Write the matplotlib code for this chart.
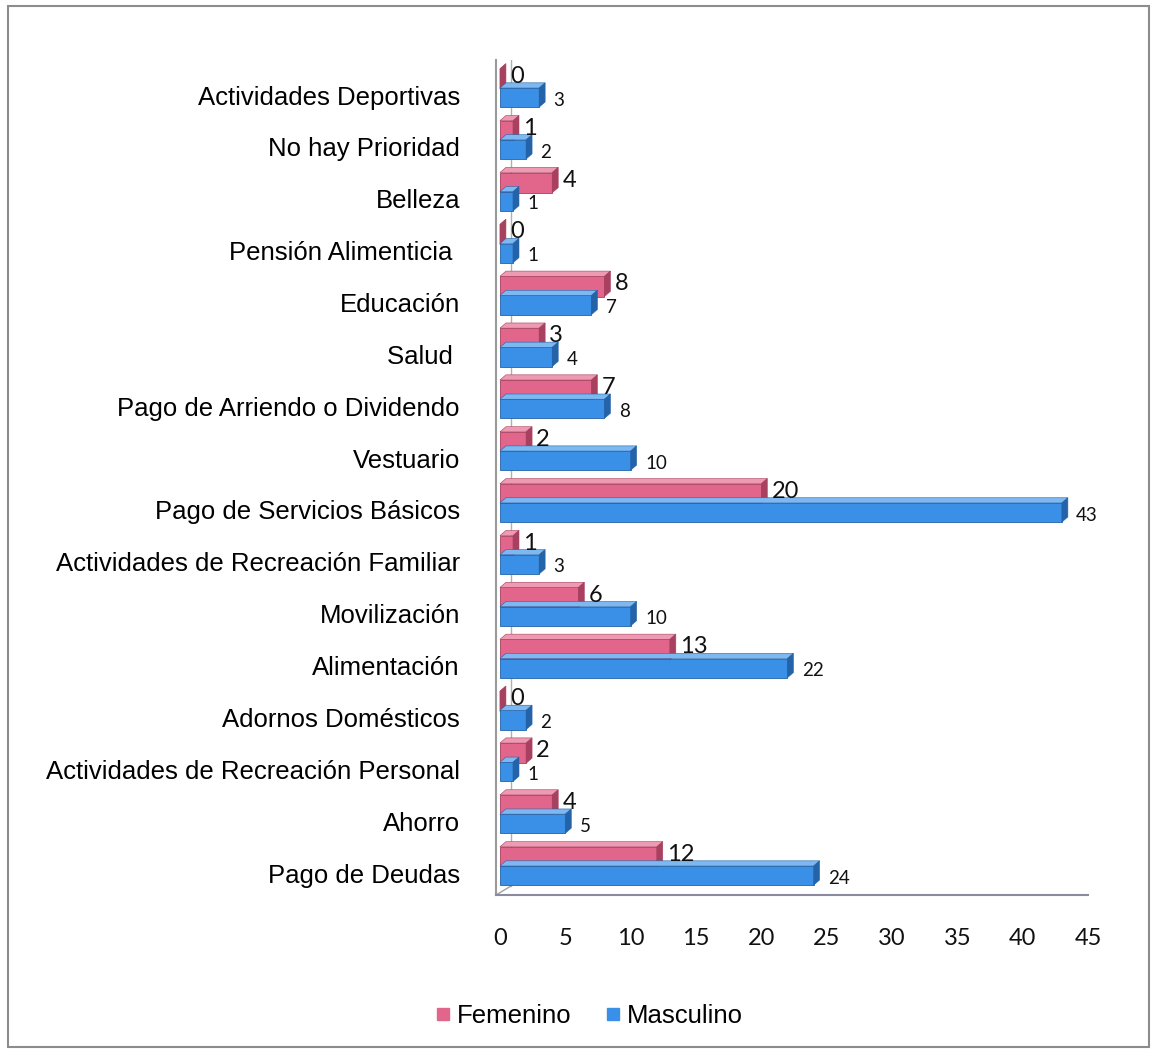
import numpy as np
import matplotlib.pyplot as plt
from matplotlib.patches import Polygon, Rectangle
from matplotlib.lines import Line2D

# categories from top to bottom
categories = ["Actividades Deportivas", "No hay Prioridad", "Belleza",
              "Pensión Alimenticia ", "Educación", "Salud ",
              "Pago de Arriendo o Dividendo", "Vestuario",
              "Pago de Servicios Básicos", "Actividades de Recreación Familiar",
              "Movilización", "Alimentación", "Adornos Domésticos",
              "Actividades de Recreación Personal", "Ahorro", "Pago de Deudas"]
femenino = [0, 1, 4, 0, 8, 3, 7, 2, 20, 1, 6, 13, 0, 2, 4, 12]
masculino = [3, 2, 1, 1, 7, 4, 8, 10, 43, 3, 10, 22, 2, 1, 5, 24]
xticks = [0, 5, 10, 15, 20, 25, 30, 35, 40, 45]

pink = "#E2668C"
pink_dark = "#A8405F"
pink_top = "#EE9AB2"
blue = "#3A90E6"
blue_dark = "#2463A8"
blue_top = "#7DB8F2"

label_font = "Liberation Sans"
num_font = "Lato"

fig = plt.figure(figsize=(11.51, 10.51), dpi=100)
ax = fig.add_axes([496 / 1151, 1 - 895 / 1051, 592 / 1151, 835 / 1051])

y = np.arange(len(categories))
dx, dy = 0.46, 0.1  # depth of the pseudo 3D faces (data units)


def draw_bars(vals, centers, h, face, side, top):
    ax.barh(centers, vals, height=h, color=face, edgecolor=side, linewidth=0.6, zorder=3)
    for v, c in zip(vals, centers):
        y0, y1 = c - h / 2, c + h / 2
        # top face
        ax.add_patch(Polygon([(0, y0), (dx, y0 - dy), (v + dx, y0 - dy), (v, y0)],
                             closed=True, facecolor=top, edgecolor=side, linewidth=0.4, zorder=3))
        # right side face
        ax.add_patch(Polygon([(v, y0), (v + dx, y0 - dy), (v + dx, y1 - dy), (v, y1)],
                             closed=True, facecolor=side, edgecolor=side, linewidth=0.4, zorder=3))


fem_c = y - 0.31
mas_c = y + 0.05
draw_bars(femenino, fem_c, 0.39, pink, pink_dark, pink_top)
draw_bars(masculino, mas_c, 0.37, blue, blue_dark, blue_top)

for v, c in zip(femenino, fem_c):
    ax.annotate(str(v), (v + dx, c - 0.05), xytext=(3, 0), textcoords="offset points",
                ha="left", va="center", fontsize=17, family=num_font, color="#111111", zorder=5)
for v, c in zip(masculino, mas_c):
    ax.annotate(str(v), (v + dx, c + 0.05), xytext=(6, 0), textcoords="offset points",
                ha="left", va="center", fontsize=13.5, family=num_font, color="#111111", zorder=5)

ax.set_xlim(-0.3, 45)
ax.set_ylim(15.424, -0.675)
ax.set_yticks(y)
ax.set_yticklabels(categories, fontsize=18.5, family=label_font)
ax.set_xticks(xticks)
ax.set_xticklabels([str(t) for t in xticks], fontsize=17, family=num_font, color="#111111")
ax.tick_params(axis="y", length=0, pad=26)
ax.tick_params(axis="x", length=0, pad=24)

for s in ["top", "right"]:
    ax.spines[s].set_visible(False)
ax.spines["left"].set_color("#9A9A9A")
ax.spines["bottom"].set_color("#8A8AA0")
ax.spines["left"].set_linewidth(1.5)
ax.spines["bottom"].set_linewidth(1.5)

# back wall edge and floor corner
ax.plot([0.85, 0.85], [15.25, -0.675], color="#B0B0B0", lw=1, zorder=1)
ax.plot([-0.3, 0.85], [15.424, 15.25], color="#A0A0A0", lw=1, zorder=1)
ax.set_facecolor("white")

handles = [Line2D([], [], marker="s", ls="", color=pink, markersize=9),
           Line2D([], [], marker="s", ls="", color=blue, markersize=9)]
fig.legend(handles, ["Femenino", "Masculino"], loc="center", bbox_to_anchor=(0.512, 0.033),
           ncol=2, frameon=False, handlelength=0.6, handletextpad=0.25, columnspacing=1.3,
           prop={"family": label_font, "size": 18.5})

# outer chart border
fig.patches.append(Rectangle((8 / 1151, 4 / 1051), 1141 / 1151, 1041 / 1051,
                             transform=fig.transFigure, fill=False,
                             edgecolor="#8C8C8C", linewidth=1.5))

fig.savefig("out.png", dpi=100)
